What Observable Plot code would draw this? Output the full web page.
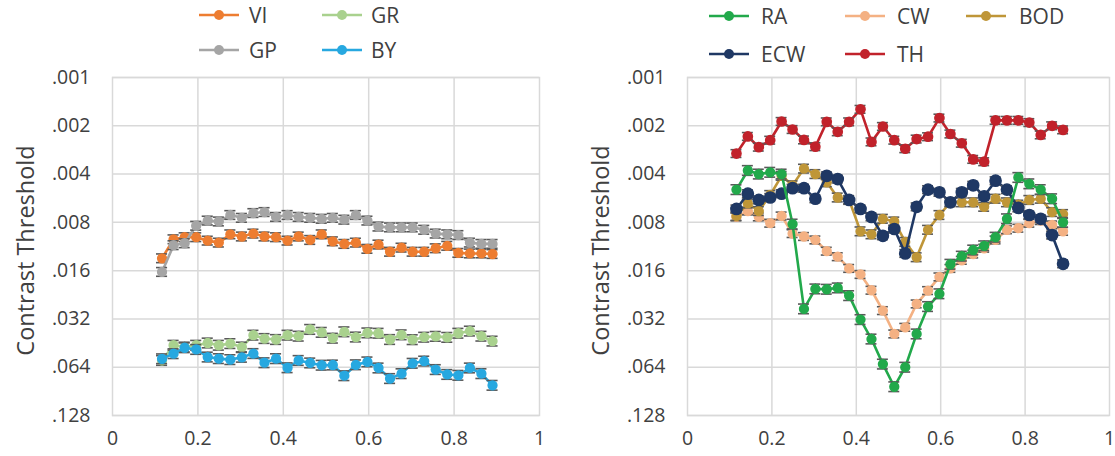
<!DOCTYPE html>
<html><head><meta charset="utf-8">
<script src="https://cdn.jsdelivr.net/npm/d3@7"></script>
<script src="https://cdn.jsdelivr.net/npm/@observablehq/plot@0.6"></script>
<style>
body{margin:0;background:#fff;font-family:"Open Sans",sans-serif;}
#root{position:relative;width:1115px;height:456px;overflow:hidden;background:#fff;}
.chart{position:absolute;top:60px;}
.sw{position:absolute;}
.lt{position:absolute;font-size:21px;line-height:24px;color:#404040;font-family:"Open Sans",sans-serif;white-space:nowrap;}
</style></head><body><div id="root"></div>
<script>
// x positions (shared by all series)
const xs = [0.116,0.143,0.169,0.196,0.223,0.249,0.276,0.303,0.330,0.356,0.383,0.410,0.436,0.463,0.490,0.516,0.543,0.570,0.597,0.623,0.650,0.677,0.703,0.730,0.757,0.784,0.810,0.837,0.864,0.890];

// left panel series
const VI = [0.0134,0.0102,0.0099,0.0099,0.0104,0.0107,0.0095,0.0098,0.0094,0.0098,0.0099,0.0104,0.0098,0.0103,0.0095,0.0105,0.0109,0.0107,0.0117,0.0110,0.0122,0.0115,0.0122,0.0122,0.0116,0.0112,0.0124,0.0125,0.0125,0.0126];
const GP = [0.0163,0.0111,0.0108,0.0084,0.0078,0.0079,0.0072,0.0075,0.0070,0.0069,0.0074,0.0072,0.0074,0.0075,0.0076,0.0075,0.0077,0.0072,0.0078,0.0085,0.0086,0.0086,0.0086,0.0089,0.0094,0.0095,0.0096,0.0107,0.0109,0.0109];
const GR = [0.0581,0.0467,0.0479,0.0467,0.0452,0.0467,0.0456,0.0479,0.0404,0.0424,0.0430,0.0404,0.0410,0.0372,0.0388,0.0422,0.0385,0.0415,0.0391,0.0393,0.0430,0.0402,0.0431,0.0416,0.0411,0.0417,0.0393,0.0381,0.0410,0.0440];
const BY = [0.0567,0.0527,0.0484,0.0496,0.0553,0.0566,0.0574,0.0555,0.0526,0.0600,0.0566,0.0645,0.0581,0.0602,0.0622,0.0620,0.0723,0.0618,0.0593,0.0647,0.0753,0.0702,0.0605,0.0586,0.0662,0.0710,0.0719,0.0647,0.0702,0.0830];

// right panel series
const RA  = [0.0050,0.0038,0.0040,0.0039,0.0040,0.0082,0.0277,0.0208,0.0209,0.0205,0.0229,0.0323,0.0427,0.0612,0.0847,0.0640,0.0397,0.0268,0.0223,0.0146,0.0130,0.0119,0.0112,0.0099,0.0076,0.0042,0.0046,0.0050,0.0057,0.0080];
const CW  = [0.0074,0.0068,0.0074,0.0081,0.0073,0.0094,0.0098,0.0103,0.0121,0.0131,0.0155,0.0169,0.0212,0.0284,0.0397,0.0361,0.0258,0.0213,0.0175,0.0155,0.0138,0.0126,0.0116,0.0103,0.0089,0.0087,0.0081,0.0078,0.0083,0.0091];
const BOD = [0.0073,0.0061,0.0068,0.0054,0.0041,0.0047,0.0037,0.0040,0.0045,0.0056,0.0058,0.0091,0.0095,0.0076,0.0079,0.0106,0.0132,0.0089,0.0072,0.0060,0.0060,0.0060,0.0064,0.0057,0.0060,0.0062,0.0058,0.0057,0.0069,0.0071];
const ECW = [0.0066,0.0053,0.0058,0.0056,0.0053,0.0049,0.0049,0.0057,0.0041,0.0043,0.0058,0.0066,0.0074,0.0097,0.0088,0.0125,0.0064,0.0050,0.0052,0.0060,0.0052,0.0047,0.0055,0.0044,0.0050,0.0065,0.0072,0.0076,0.0096,0.0145];
const TH  = [0.00298,0.00233,0.00272,0.00246,0.00188,0.00211,0.00245,0.00270,0.00189,0.00218,0.00189,0.00158,0.00252,0.00202,0.00246,0.00278,0.00242,0.00234,0.00179,0.00225,0.00257,0.00324,0.00335,0.00185,0.00185,0.00185,0.00191,0.00228,0.00200,0.00212];

// error-bar half spans (in log2 units), per series
const leftNames = ["VI","GR","GP","BY"];
const leftErr = [0.09,0.10,0.09,0.10];
const rightNames = ["RA","CW","BOD","ECW","TH"];
const rightErr = [0.10,0.08,0.09,0.08,0.08];
const leftDrawOrder = ["VI","GR","GP","BY"];
const rightDrawOrder = ["CW","BOD","ECW","RA","TH"];

const colors = {VI:"#ED7D31",GP:"#A5A5A5",GR:"#A9D18E",BY:"#27A8E0",RA:"#22A94B",CW:"#F4B183",BOD:"#BF9638",ECW:"#1F3864",TH:"#C1222B"};
const dotR = {VI:4.4,GP:4.4,GR:4.4,BY:4.4,RA:4.4,CW:4.4,BOD:4.4,ECW:5.6,TH:4.6};

const yTicks = [0.001,0.002,0.004,0.008,0.016,0.032,0.064,0.128];
const xTicks = [0,0.2,0.4,0.6,0.8,1];
const xGrid = [0.2,0.4,0.6,0.8];
const yTitle = "Contrast Threshold";

const seriesData = {VI,GP,GR,BY,RA,CW,BOD,ECW,TH};

function panel(names, errs, order, width, marginLeft, marginRight) {
  const errOf = Object.fromEntries(names.map((n,k)=>[n,errs[k]]));
  const marks = [
    Plot.ruleX(xGrid, {x: d=>d, stroke:"#d9d9d9", strokeWidth:1.5}),
    Plot.ruleY(yTicks, {y: d=>d, stroke:"#d9d9d9", strokeWidth:1.5}),
    Plot.frame({stroke:"#d9d9d9", strokeWidth:1.5}),
    Plot.text([yTitle], {frameAnchor:"left", textAnchor:"middle", rotate:-90, dx:-86, dy:4, fontSize:23.5, fill:"#404040", text:d=>d})
  ];
  for (const n of order) {
    const e = errOf[n];
    const d = seriesData[n].map((v,i)=>({x:xs[i], y:v, lo:v/Math.pow(2,e), hi:v*Math.pow(2,e)}));
    marks.push(Plot.line(d, {x:"x", y:"y", stroke:colors[n], strokeWidth:2.6}));
    marks.push(Plot.ruleX(d, {x:"x", y1:"lo", y2:"hi", stroke:"#595959", strokeWidth:1.4}));
    marks.push(Plot.ruleY(d, {y:"lo", x1:r=>r.x-0.013, x2:r=>r.x+0.013, stroke:"#595959", strokeWidth:1.6}));
    marks.push(Plot.ruleY(d, {y:"hi", x1:r=>r.x-0.013, x2:r=>r.x+0.013, stroke:"#595959", strokeWidth:1.6}));
    marks.push(Plot.dot(d, {x:"x", y:"y", fill:colors[n], stroke:colors[n], r:dotR[n]}));
  }
  return Plot.plot({
    width, height:396, marginTop:17, marginBottom:41, marginLeft, marginRight,
    style:{fontFamily:"Open Sans, sans-serif", fontSize:"19.5px", color:"#404040", overflow:"visible", background:"transparent"},
    x:{domain:[0,1], ticks:xTicks, tickFormat:d=>String(d), tickSize:0, tickPadding:16, label:null, grid:false},
    y:{type:"log", base:2, domain:[0.001,0.128], reverse:true, ticks:yTicks, tickFormat:d=>String(d).replace(/^0/,""), tickSize:0, tickPadding:22, label:null, grid:false},
    marks
  });
}

const root = document.getElementById("root");
const left = panel(leftNames, leftErr, leftDrawOrder, 557, 112, 18);
left.classList.add("chart"); left.style.left = "0px";
root.appendChild(left);
const right = panel(rightNames, rightErr, rightDrawOrder, 558, 130, 6);
right.classList.add("chart"); right.style.left = "557px";
root.appendChild(right);

function legendItem(name, sx, tx, y) {
  const c = colors[name];
  const svg = document.createElementNS("http://www.w3.org/2000/svg","svg");
  svg.setAttribute("width", 42); svg.setAttribute("height", 14);
  svg.setAttribute("class","sw");
  svg.style.left = sx + "px"; svg.style.top = (y-7) + "px";
  svg.innerHTML = `<line x1="1" y1="7" x2="41" y2="7" stroke="${c}" stroke-width="2.6"/><circle cx="21" cy="7" r="5" fill="${c}"/>`;
  root.appendChild(svg);
  const t = document.createElement("div");
  t.className = "lt"; t.textContent = name;
  t.style.left = tx + "px"; t.style.top = (y-12) + "px";
  root.appendChild(t);
}
legendItem("VI", 198, 249, 15);
legendItem("GR", 321, 371, 15);
legendItem("GP", 198, 249, 50);
legendItem("BY", 321, 371, 50);
legendItem("RA", 708, 761, 16);
legendItem("CW", 844, 897, 16);
legendItem("BOD", 965, 1019, 16);
legendItem("ECW", 708, 761, 54);
legendItem("TH", 844, 897, 54);
</script></body></html>
